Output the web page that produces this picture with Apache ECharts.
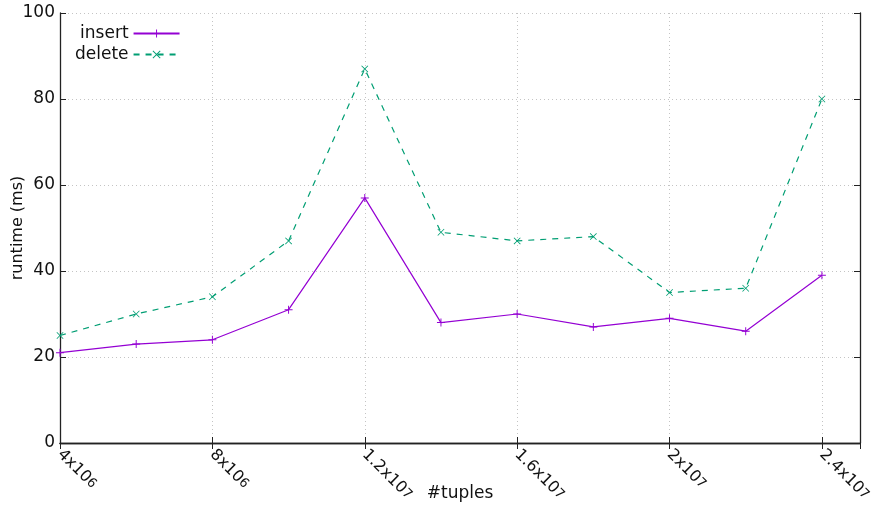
<!DOCTYPE html>
<html>
<head>
<meta charset="utf-8">
<script src="https://cdn.jsdelivr.net/npm/echarts@6/dist/echarts.min.js"></script>
<style>
  html, body { margin: 0; padding: 0; background: #fff; }
  #chart { width: 878px; height: 508px; }
</style>
</head>
<body>
<div id="chart"></div>
<script>
// #tuples on x, runtime in ms on y
var tuples = [4e6, 6e6, 8e6, 10e6, 12e6, 14e6, 16e6, 18e6, 20e6, 22e6, 24e6];
var insertMs = [21, 23, 24, 31, 57, 28, 30, 27, 29, 26, 39];
var deleteMs = [25, 30, 34, 47, 87, 49, 47, 48, 35, 36, 80];

var xTicks = [4e6, 8e6, 12e6, 16e6, 20e6, 24e6];
var xTickBase = ['4x10', '8x10', '1.2x10', '1.6x10', '2x10', '2.4x10'];
var xTickExp = ['6', '6', '7', '7', '7', '7'];
var yTicks = [0, 20, 40, 60, 80, 100];

var FONT = 'DejaVu Sans';
var plusPath = 'path://M4.4,0H5.6V4.4H10V5.6H5.6V10H4.4V5.6H0V4.4H4.4Z';
var crossPath = 'path://M0.8,0L5,4.2L9.2,0L10,0.8L5.8,5L10,9.2L9.2,10L5,5.8L0.8,10L0,9.2L4.2,5L0,0.8Z';

function pairs(ys) {
  return tuples.map(function (x, i) { return [x, ys[i]]; });
}

var frameLine = { show: true, lineStyle: { color: '#222', width: 1.3 } };
var gridDots = { show: true, lineStyle: { color: '#c4c4c4', type: [1, 3], width: 1 } };
var inTicks = { show: true, inside: true, length: 6, lineStyle: { color: '#222' } };

var chart = echarts.init(document.getElementById('chart'));
chart.setOption({
  animation: false,
  backgroundColor: '#fff',
  grid: { left: 60, right: 18, top: 13, bottom: 65, containLabel: false, outerBoundsMode: 'none' },
  legend: {
    orient: 'vertical',
    left: 70,
    top: 20,
    align: 'right',
    itemGap: 4,
    itemWidth: 46,
    itemHeight: 10,
    textStyle: { fontFamily: FONT, fontSize: 17, color: '#111', width: 58, align: 'right' },
    data: ['insert', 'delete']
  },
  xAxis: [{
    type: 'value',
    min: 4e6,
    max: 25e6,
    interval: 4e6,
    name: '#tuples',
    nameLocation: 'middle',
    nameGap: 42,
    nameMoveOverlap: false,
    nameTextStyle: { fontFamily: FONT, fontSize: 17, color: '#111' },
    axisLine: frameLine,
    axisTick: inTicks,
    splitLine: gridDots,
    axisLabel: {
      rotate: -45,
      margin: 9,
      fontFamily: FONT,
      fontSize: 16,
      color: '#111',
      showMaxLabel: false,
      rich: {
        b: { fontFamily: FONT, fontSize: 16, color: '#111', height: 20, verticalAlign: 'bottom' },
        e: { fontFamily: FONT, fontSize: 13, color: '#111', height: 20, verticalAlign: 'top' }
      },
      formatter: function (v) {
        var i = xTicks.indexOf(v);
        return i >= 0 ? '{b|' + xTickBase[i] + '}{e|' + xTickExp[i] + '}' : '';
      }
    }
  }, {
    type: 'value',
    position: 'top',
    min: 4e6,
    max: 25e6,
    interval: 4e6,
    axisLine: frameLine,
    axisTick: inTicks,
    axisLabel: { show: false },
    splitLine: { show: false }
  }],
  yAxis: [{
    type: 'value',
    min: 0,
    max: 100,
    interval: 20,
    name: 'runtime (ms)',
    nameLocation: 'middle',
    nameGap: 34,
    nameMoveOverlap: false,
    nameTextStyle: { fontFamily: FONT, fontSize: 16, color: '#111' },
    axisLine: frameLine,
    axisTick: inTicks,
    splitLine: gridDots,
    axisLabel: {
      fontFamily: FONT,
      fontSize: 17,
      color: '#111',
      margin: 5,
      formatter: function (v) { return yTicks.indexOf(v) >= 0 ? String(v) : ''; }
    }
  }, {
    type: 'value',
    position: 'right',
    min: 0,
    max: 100,
    interval: 20,
    axisLine: frameLine,
    axisTick: inTicks,
    axisLabel: { show: false },
    splitLine: { show: false }
  }],
  series: [{
    name: 'insert',
    type: 'line',
    data: pairs(insertMs),
    symbol: plusPath,
    symbolSize: 8,
    color: '#9400d3',
    itemStyle: { color: '#9400d3' },
    lineStyle: { color: '#9400d3', width: 1.2 }
  }, {
    name: 'delete',
    type: 'line',
    data: pairs(deleteMs),
    symbol: crossPath,
    symbolSize: 7,
    color: '#009e73',
    itemStyle: { color: '#009e73' },
    lineStyle: { color: '#009e73', width: 1.2, type: [6, 6] }
  }]
});
</script>
</body>
</html>
